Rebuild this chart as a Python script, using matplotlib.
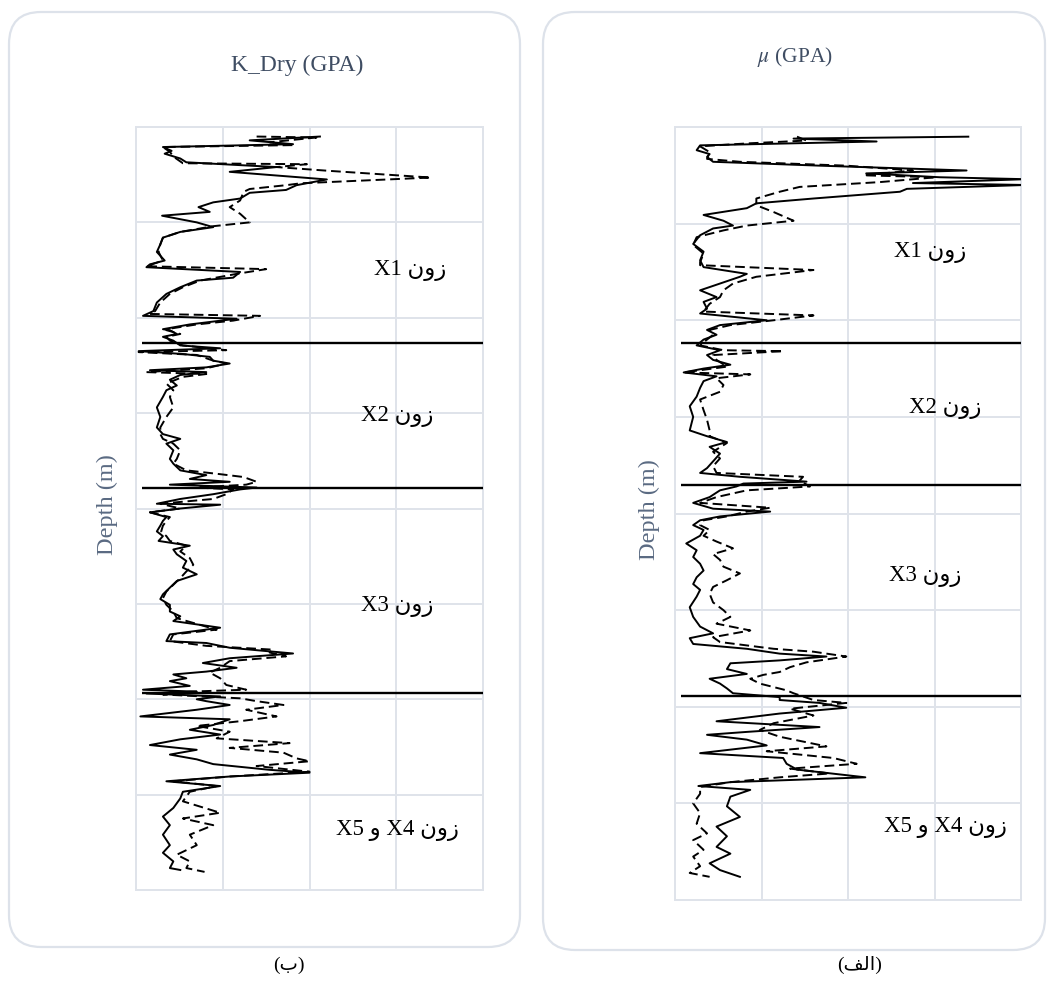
import numpy as np
import matplotlib.pyplot as plt
from matplotlib.patches import FancyBboxPatch

plt.rcParams['font.family'] = ['Liberation Serif', 'DejaVu Sans']
plt.rcParams['mathtext.fontset'] = 'stix'

# ---- K_Dry (GPa) vs depth (m), panel (b) ----
kdry_depth = [3010, 3014, 3018, 3021, 3025, 3028, 3033, 3037, 3042, 3047, 3055, 3061, 3066, 3069, 3075,
	3079, 3084, 3089, 3093, 3096, 3100, 3105, 3110, 3116, 3123, 3131, 3140, 3144, 3147, 3152, 3158, 3161,
	3168, 3175, 3184, 3193, 3198, 3201, 3207, 3212,
	3213, 3217, 3220, 3224, 3229, 3232, 3235, 3238, 3241, 3245, 3248, 3252, 3255, 3257, 3260, 3265, 3271,
	3276, 3283, 3294, 3304, 3315, 3322, 3327, 3332, 3339, 3348, 3353, 3360, 3365, 3369, 3372, 3375, 3378,
	3380, 3385, 3390, 3395, 3396, 3400, 3404, 3409,
	3413, 3418, 3424, 3429, 3434, 3439, 3443, 3448, 3455, 3462, 3469, 3476, 3483, 3490, 3495, 3501, 3508,
	3513, 3518, 3525, 3532, 3539, 3541, 3546, 3552, 3557, 3562, 3567, 3571, 3574, 3578, 3581, 3586, 3590,
	3592, 3594, 3597, 3600,
	3602, 3606, 3611, 3618, 3621, 3627, 3632, 3637, 3642, 3648, 3653, 3658, 3663, 3668, 3674, 3677, 3681,
	3686, 3691, 3697, 3704, 3714, 3723, 3732, 3742, 3753, 3761, 3770, 3777, 3779]
kdry_solid = [21.2, 13.1, 18.1, 3.1, 4.1, 3.3, 5.1, 5.8, 16.2, 10.8, 22.0, 18.5, 17.3, 13.1, 12.0,
	8.9, 7.2, 8.5, 3.0, 4.7, 7.0, 8.9, 5.1, 3.1, 2.8, 2.4, 3.3, 1.6, 1.2, 12.0, 11.2, 7.0,
	5.1, 3.5, 2.4, 2.0, 0.8, 11.6, 6.2, 3.1,
	3.9, 4.7, 3.1, 4.3, 5.1, 9.7, 0.3, 5.4, 8.5, 8.9, 10.8, 8.1, 1.6, 8.1, 5.1, 3.9, 4.7,
	3.5, 3.1, 2.4, 2.8, 2.4, 3.1, 5.1, 3.5, 4.3, 3.9, 4.3, 5.1, 8.1, 6.2, 10.8, 3.9, 13.9,
	12.0, 8.9, 5.1, 2.4, 9.7, 5.1, 1.6, 3.5,
	3.1, 2.8, 2.4, 3.1, 2.6, 6.2, 4.3, 4.7, 5.8, 5.4, 7.0, 4.7, 3.9, 3.1, 2.8, 3.9, 3.9,
	5.1, 4.3, 9.7, 3.9, 3.5, 8.1, 10.8, 18.1, 10.8, 7.7, 11.6, 8.1, 4.3, 5.8, 3.9, 6.2, 0.8,
	7.0, 1.2, 9.7, 7.0,
	8.1, 10.8, 7.0, 0.5, 10.8, 8.9, 6.2, 9.7, 5.1, 1.6, 7.0, 3.9, 7.0, 8.9, 15.4, 20.0, 10.8,
	3.5, 9.7, 5.4, 5.1, 4.3, 3.1, 3.9, 3.1, 3.9, 3.1, 4.3, 3.9, 5.1]

kdry_depth_d = [3010, 3011, 3016, 3019, 3021, 3026, 3031, 3038, 3039, 3042, 3046, 3053, 3059, 3061, 3065,
	3068, 3077, 3084, 3091, 3100, 3104, 3110, 3116, 3123, 3131, 3140, 3146, 3149, 3154, 3161, 3168, 3175,
	3184, 3193, 3196, 3198, 3203, 3207, 3212,
	3213, 3217, 3220, 3224, 3229, 3234, 3236, 3239, 3245, 3248, 3253, 3257, 3259, 3262, 3269, 3276, 3283,
	3294, 3304, 3315, 3322, 3327, 3332, 3339, 3348, 3353, 3360, 3364, 3367, 3372, 3375, 3378, 3380, 3385,
	3390, 3395, 3400, 3404, 3409,
	3413, 3418, 3424, 3429, 3434, 3439, 3445, 3452, 3459, 3466, 3473, 3480, 3487, 3494, 3501, 3508, 3515,
	3522, 3527, 3532, 3539, 3544, 3548, 3551, 3555, 3560, 3567, 3572, 3578, 3585, 3590, 3592, 3595, 3599,
	3602, 3606, 3611, 3618, 3623, 3628, 3634, 3641, 3646, 3651, 3656, 3662, 3665, 3670, 3676, 3681, 3686,
	3691, 3697, 3707, 3719, 3725, 3732, 3742, 3753, 3763, 3770, 3777, 3781]
kdry_dashed = [13.9, 20.8, 15.4, 18.1, 3.1, 3.9, 4.3, 5.4, 19.7, 16.2, 22.3, 34.0, 19.0, 17.3, 13.1,
	12.4, 12.0, 10.8, 12.0, 13.1, 8.9, 5.1, 3.1, 2.8, 2.6, 3.1, 1.2, 15.0, 11.6, 7.4, 5.4, 3.9,
	2.8, 2.2, 1.6, 14.3, 11.2, 7.0, 3.5,
	3.5, 5.1, 3.5, 3.9, 5.4, 10.4, 0.3, 7.0, 8.9, 10.4, 8.1, 1.2, 8.1, 5.4, 3.5, 4.3, 3.9,
	4.3, 3.5, 2.8, 2.8, 3.1, 4.3, 5.1, 4.7, 4.3, 5.8, 9.7, 12.4, 13.9, 12.7, 7.0, 11.2, 10.4,
	8.9, 2.8, 5.1, 1.6, 3.9,
	3.5, 3.1, 2.9, 3.5, 3.9, 5.8, 5.1, 6.2, 6.6, 5.8, 5.1, 4.3, 3.5, 3.1, 3.5, 4.3, 4.7,
	7.4, 9.3, 4.3, 3.9, 8.1, 15.8, 15.4, 17.3, 10.8, 9.7, 8.5, 9.7, 10.4, 12.7, 6.2, 3.1, 12.0,
	13.9, 17.0, 12.7, 16.2, 12.0, 7.0, 10.8, 9.3, 17.7, 10.8, 17.0, 18.5, 20.0, 13.9, 20.0, 10.8, 4.3,
	9.3, 6.2, 5.4, 9.7, 5.4, 8.9, 6.2, 7.0, 4.7, 6.2, 5.8, 7.9]

# ---- mu (GPa) vs depth (m), panel (alef) ----
mu_depth = [3010, 3012, 3015, 3019, 3024, 3028, 3031, 3036, 3040, 3045, 3048, 3052, 3054, 3058, 3060,
	3064, 3067, 3074, 3079, 3084, 3091, 3097, 3102, 3105, 3112, 3121, 3129, 3138, 3145, 3152, 3155, 3162,
	3169, 3176, 3181, 3188, 3193, 3200, 3205,
	3210, 3215, 3220, 3226, 3231, 3236, 3241, 3246, 3250, 3254, 3258, 3263, 3270, 3279, 3289, 3300, 3314,
	3320, 3326, 3331, 3338, 3346, 3353, 3358, 3362, 3367, 3369, 3372, 3376, 3383, 3389, 3395, 3398, 3403,
	3407, 3412, 3417, 3423, 3431, 3438, 3445, 3452, 3459, 3466, 3473, 3479, 3486, 3497, 3507, 3517, 3524,
	3529, 3535, 3540, 3545, 3548, 3552, 3555, 3561, 3566, 3571, 3576, 3581, 3586, 3590,
	3593, 3596, 3601, 3607, 3615, 3621, 3626, 3629, 3634, 3640, 3648, 3653, 3659, 3665, 3673, 3678, 3682,
	3686, 3693, 3703, 3714, 3724, 3734, 3745, 3752, 3762, 3769, 3776]
mu_solid = [33.9, 13.7, 23.3, 2.9, 2.5, 4.0, 3.7, 4.4, 16.7, 33.7, 22.1, 30.6, 40.5, 27.5, 40.5,
	26.8, 26.0, 16.0, 9.4, 8.3, 3.3, 5.6, 6.7, 4.4, 2.9, 2.1, 3.3, 2.9, 3.3, 8.3, 7.5, 5.2,
	2.9, 4.8, 3.3, 3.7, 2.9, 10.6, 5.2,
	3.7, 4.8, 3.3, 2.5, 5.2, 3.7, 4.4, 6.4, 3.3, 1.0, 4.8, 3.3, 2.9, 2.5, 1.7, 2.1, 1.7,
	3.7, 6.0, 4.0, 5.2, 4.4, 3.7, 2.9, 7.5, 15.2, 7.9, 7.1, 5.2, 4.0, 2.1, 4.4, 11.0, 5.2,
	2.9, 2.1, 3.3, 2.9, 1.3, 2.5, 2.1, 2.9, 3.3, 2.5, 2.1, 2.9, 2.5, 1.7, 2.1, 2.9, 4.4,
	1.7, 2.1, 8.3, 12.1, 17.5, 12.1, 6.4, 6.0, 8.3, 4.0, 5.2, 6.0, 6.7, 12.1,
	12.1, 16.7, 19.8, 12.1, 4.8, 16.7, 8.3, 3.7, 8.3, 10.6, 2.9, 12.5, 12.9, 14.1, 22.0, 6.4, 2.7,
	8.7, 6.4, 6.0, 7.5, 4.8, 6.0, 4.8, 6.4, 4.0, 5.2, 7.5]

mu_depth_d = [3010, 3014, 3017, 3020, 3026, 3033, 3036, 3040, 3045, 3050, 3052, 3057, 3062, 3067, 3074,
	3081, 3088, 3097, 3102, 3107, 3114, 3122, 3131, 3140, 3143, 3148, 3155, 3162, 3169, 3176, 3183, 3191,
	3195, 3200, 3205,
	3210, 3215, 3220, 3226, 3231, 3232, 3236, 3241, 3248, 3254, 3256, 3260, 3267, 3274, 3282, 3293, 3303,
	3314, 3320, 3327, 3336, 3343, 3351, 3358, 3362, 3366, 3372, 3376, 3383, 3389, 3394, 3398, 3403,
	3407, 3412, 3417, 3423, 3429, 3436, 3442, 3448, 3455, 3462, 3469, 3476, 3483, 3492, 3500, 3507, 3514,
	3521, 3528, 3533, 3540, 3543, 3548, 3554, 3559, 3564, 3567, 3571, 3576, 3583, 3586,
	3593, 3596, 3602, 3609, 3617, 3624, 3631, 3641, 3646, 3653, 3659, 3664, 3669, 3673, 3678, 3683, 3690,
	3700, 3710, 3721, 3731, 3738, 3748, 3755, 3765, 3772, 3776]
mu_dashed = [14.1, 15.2, 8.3, 2.9, 4.0, 3.7, 7.5, 19.8, 27.5, 21.8, 30.2, 23.7, 14.4, 12.1, 9.4,
	9.4, 11.4, 13.7, 8.3, 5.6, 2.5, 2.1, 3.3, 2.9, 2.9, 16.0, 9.4, 6.7, 5.6, 5.2, 4.0, 3.3,
	16.0, 11.4, 6.4,
	4.0, 4.4, 3.7, 2.9, 5.6, 12.5, 4.4, 4.8, 6.0, 1.0, 8.7, 4.8, 5.6, 5.2, 2.9, 3.3, 3.7,
	4.0, 4.0, 6.0, 4.4, 5.2, 4.4, 4.8, 14.8, 14.4, 15.6, 8.3, 4.8, 2.9, 11.0, 8.3, 6.0,
	3.3, 2.9, 4.0, 3.3, 4.8, 6.7, 4.4, 5.2, 5.6, 7.5, 6.0, 4.4, 4.0, 4.4, 5.6, 6.4, 4.8,
	8.7, 4.4, 5.2, 11.4, 16.0, 19.8, 15.2, 13.3, 12.1, 10.2, 8.7, 9.8, 12.9, 13.7,
	16.0, 19.8, 13.3, 16.0, 11.4, 9.8, 12.1, 17.5, 10.6, 18.3, 21.0, 13.3, 17.9, 12.1, 6.4, 2.9, 2.9,
	2.1, 2.9, 2.5, 3.7, 2.1, 3.3, 2.1, 2.9, 1.7, 4.0]

# zone tops (m) and zone labels (Persian written in display order)
kdry_zones = [3226, 3379, 3593]
mu_zones = [3224, 3371, 3589]
zone_text = ['X1 \u0646\u0648\u0632', 'X2 \u0646\u0648\u0632', 'X3 \u0646\u0648\u0632',
	'X5 \u0648 X4 \u0646\u0648\u0632']
kdry_label_pos = [(31.6, 3150), (30.1, 3304), (30.1, 3503), (30.1, 3738)]
mu_label_pos = [(29.5, 3130), (31.2, 3291), (28.9, 3465), (31.3, 3725)]

GRID = '#dfe3ea'
BOX = '#dde2ea'
TITLE = '#3f4d63'

fig = plt.figure(figsize=(10.48, 9.83), dpi=100)

# rounded frames
for x0, y0, w, h in [(0.09, 0.36, 5.11, 9.35), (5.43, 0.33, 5.02, 9.38)]:
	fig.patches.append(FancyBboxPatch((x0, y0), w, h, boxstyle='round,pad=0,rounding_size=0.32',
		transform=fig.dpi_scale_trans, facecolor='none', edgecolor=BOX, linewidth=1.6, zorder=-1))

def well_panel(rect, d_s, v_s, d_d, v_d, zones, labels, title, title_xy, label_y, title_size):
	ax = fig.add_axes(rect)
	ax.patch.set_alpha(0)
	ax.plot(v_s, d_s, color='black', lw=1.4, zorder=3)
	ax.plot(v_d, d_d, color='black', lw=1.4, dashes=(5, 2.5), zorder=3)
	ax.hlines(zones, 0.7, 40, colors='black', lw=1.7, zorder=4)
	for txt, (x, y) in zip(zone_text, labels):
		ax.text(x, y, txt, ha='center', va='center', fontsize=16.5, color='black')
	ax.set_xlim(0, 40)
	ax.set_ylim(3800, 3000)
	ax.set_xticks(np.arange(0, 41, 10))
	ax.set_yticks(np.arange(3000, 3801, 100))
	ax.tick_params(length=0, labelbottom=False, labelleft=False)
	ax.grid(True, color=GRID, lw=1.4)
	ax.set_axisbelow(True)
	for s in ax.spines.values():
		s.set_color(GRID)
		s.set_linewidth(1.4)
	ax.set_ylabel('Depth (m)', fontsize=17.5, color='#5a6a82')
	ax.yaxis.set_label_coords(label_y, 0.505)
	fig.text(title_xy[0], title_xy[1], title, ha='center', va='center', fontsize=title_size, color=TITLE)
	return ax

well_panel([0.1298, 0.0946, 0.3311, 0.7762], kdry_depth, kdry_solid, kdry_depth_d, kdry_dashed,
	kdry_zones, kdry_label_pos, 'K_Dry (GPA)', (0.2834, 0.9339), -0.052, 17)
well_panel([0.6441, 0.0844, 0.3302, 0.7864], mu_depth, mu_solid, mu_depth_d, mu_dashed,
	mu_zones, mu_label_pos, r'$\mu$ (GPA)', (0.7586, 0.942), -0.043, 15.5)

fig.text(0.2758, 0.0183, '(\u0628)', ha='center', va='center', fontsize=14)
fig.text(0.8206, 0.0183, '(\ufed2\ufedf\u0627)', ha='center', va='center', fontsize=14)

fig.savefig('out.png', dpi=100)
